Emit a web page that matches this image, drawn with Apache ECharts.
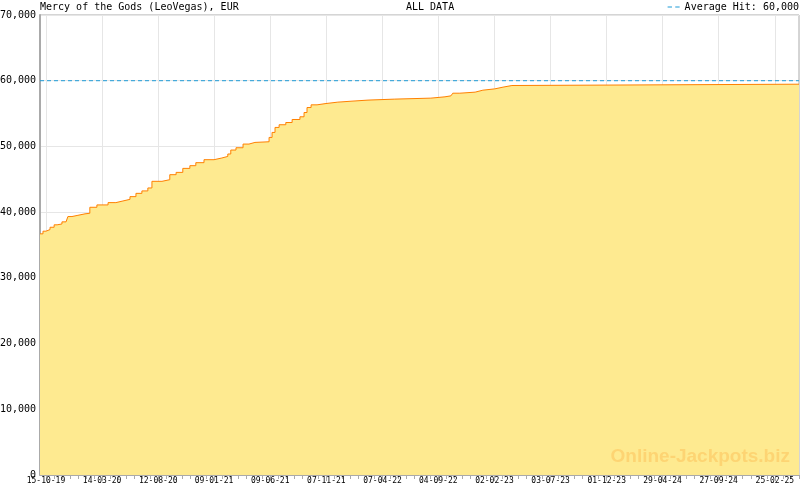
<!DOCTYPE html>
<html><head><meta charset="utf-8">
<script src="https://cdn.jsdelivr.net/npm/echarts@6/dist/echarts.min.js"></script>
<style>html,body{margin:0;padding:0;background:#fff}#c{width:800px;height:490px}</style>
</head><body><div id="c"></div>
<script>
// Day offsets are counted from 15-10-2019 (first labelled tick)
const tickLabels = ['15-10-19','14-03-20','12-08-20','09-01-21','09-06-21','07-11-21','07-04-22','04-09-22','02-02-23','03-07-23','01-12-23','29-04-24','27-09-24','25-02-25'];
const stepDays = [-16,-8,0,11,22,30,43,54,59,70,86,105,118,137,167,188,207,226,242,258,274,285,312,333,350,368,387,403,425,452,473,489,497,511,530,546,562,600,608,616,627,645,662,683,694,702,713,729,753,785,823,866,938,1035,1073,1089,1094,1113,1154,1175,1207,1229,1253];
const jackpotValues = [36700,37100,37350,37700,38070,38200,38520,38820,39330,39520,39740,39830,40740,41100,41450,41700,41950,42360,42860,43230,43680,44690,44940,45700,46050,46660,47070,47530,47980,48240,48480,48850,49450,49800,50360,50610,50710,51370,52130,52890,53300,53640,54100,54510,55160,55920,56330,56530,56740,56890,57050,57200,57350,57550,57700,57900,58100,58260,58560,58760,59020,59270,59470];
const averageHit = 60000;
const axisMinDay = -16;
const axisMaxDay = 2025;

function dayOf(label){
  const p = label.split('-').map(Number);
  return Math.round((Date.UTC(2000+p[2], p[1]-1, p[0]) - Date.UTC(2019, 9, 15)) / 86400000);
}
const majorDays = tickLabels.map(dayOf);
const minorDays = [];
for (let i = 0; i < majorDays.length; i++) {
  const a = majorDays[i];
  const b = i < majorDays.length - 1 ? majorDays[i+1] : a + 150.7;
  for (let k = 0; k < 7; k++) {
    const v = a + k * (b - a) / 7;
    if (v <= axisMaxDay) minorDays.push(v);
  }
}

const mono = 'DejaVu Sans Mono';
const jackpotData = stepDays.map((d, i) => [d, jackpotValues[i]]);
jackpotData.push([axisMaxDay, jackpotValues[jackpotValues.length-1]]);

const chart = echarts.init(document.getElementById('c'), null, {renderer: 'canvas'});
chart.setOption({
  animation: false,
  backgroundColor: '#fff',
  title: [
    {text: 'Mercy of the Gods (LeoVegas), EUR', left: 40, top: 1, padding: 0,
     textStyle: {fontFamily: mono, fontSize: 10, fontWeight: 'normal', color: '#000', lineHeight: 12}},
    {text: 'ALL DATA', left: 406, top: 1, padding: 0,
     textStyle: {fontFamily: mono, fontSize: 10, fontWeight: 'normal', color: '#000', lineHeight: 12}}
  ],
  legend: {
    top: 2, right: 1, padding: 0,
    data: [{name: 'Average Hit: 60,000', icon: 'path://M0,0H4V1H0Z M7,0H11V1H7Z'}],
    itemWidth: 12, itemHeight: 2,
    textStyle: {fontFamily: mono, fontSize: 10, color: '#000'}
  },
  grid: {left: 40, right: 1, top: 15, bottom: 15, containLabel: false, outerBoundsMode: 'none',
         show: true, borderColor: '#aaa', borderWidth: 1},
  xAxis: [
    {type: 'value', min: axisMinDay, max: axisMaxDay,
     axisLine: {show: true, onZero: false, lineStyle: {color: '#aaa', width: 1}},
     axisTick: {show: true, length: 6, lineStyle: {color: '#aaa'}, customValues: majorDays},
     axisLabel: {show: true, customValues: majorDays, margin: 2, fontFamily: mono, fontSize: 8, color: '#000',
       formatter: v => { const i = majorDays.indexOf(Math.round(v)); return i >= 0 ? tickLabels[i] : ''; }},
     splitLine: {show: true, lineStyle: {color: '#e6e6e6', width: 1}}},
    {type: 'value', min: axisMinDay, max: axisMaxDay, position: 'bottom',
     axisLine: {show: false, onZero: false},
     axisTick: {show: true, length: 4, lineStyle: {color: '#aaa'}, customValues: minorDays},
     axisLabel: {show: false}, splitLine: {show: false}}
  ],
  yAxis: {
    type: 'value', min: 0, max: 70000, interval: 10000,
    axisLine: {show: true, onZero: false, lineStyle: {color: '#aaa', width: 2}},
    axisTick: {show: false},
    axisLabel: {margin: 4, fontFamily: mono, fontSize: 10, color: '#000'},
    splitLine: {show: true, lineStyle: {color: '#e6e6e6', width: 1}}
  },
  graphic: [{
    type: 'text', right: 10, top: 447, z: 100, silent: true,
    style: {text: 'Online-Jackpots.biz', font: 'bold 19px "Liberation Sans", Arial, sans-serif', fill: 'rgba(252,170,60,0.34)'}
  }],
  series: [
    {name: 'Jackpot', type: 'line', step: 'end', xAxisIndex: 0, data: jackpotData,
     symbol: 'none', silent: true,
     lineStyle: {color: '#ff8000', width: 1},
     itemStyle: {color: '#ff8000'},
     areaStyle: {color: '#feea90', opacity: 1}},
    {name: 'Average Hit: 60,000', type: 'line', xAxisIndex: 0,
     data: [[axisMinDay, averageHit], [axisMaxDay, averageHit]],
     symbol: 'none', silent: true,
     lineStyle: {color: '#1e9bd7', width: 1, type: [4, 3]},
     itemStyle: {color: '#1e9bd7'}}
  ]
});
</script>
</body></html>
